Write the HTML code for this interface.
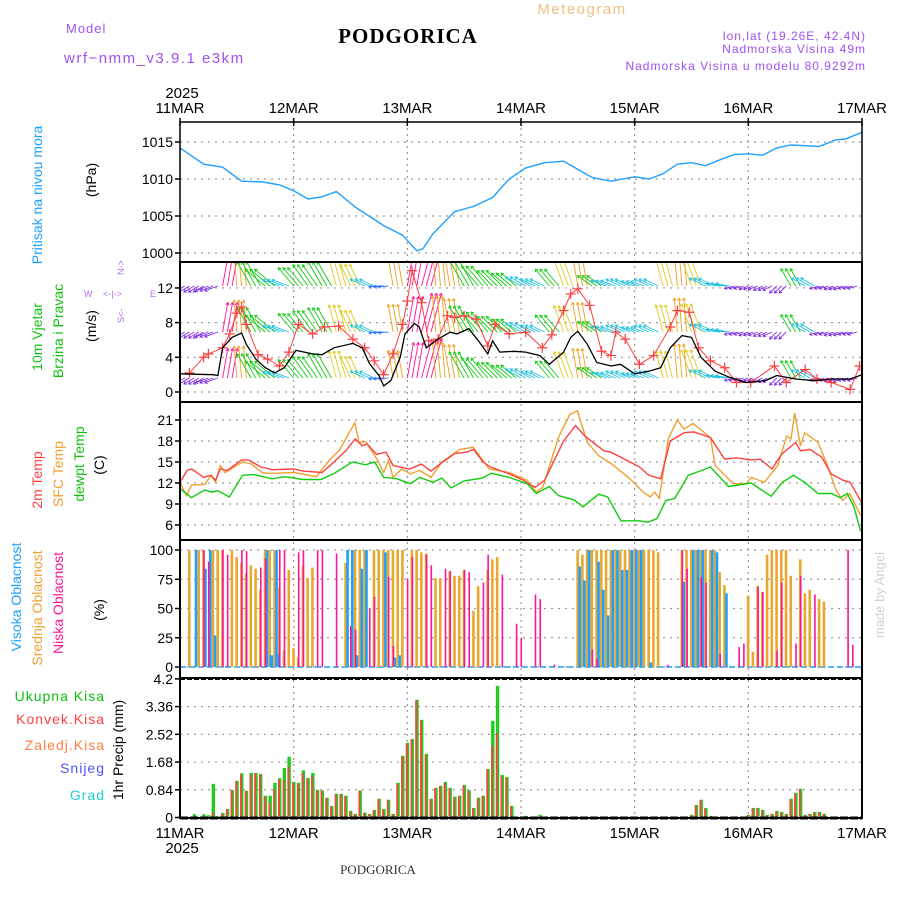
<!DOCTYPE html>
<html><head><meta charset="utf-8">
<style>
html,body{margin:0;padding:0;background:#fff;}
svg{display:block;font-family:"Liberation Sans",sans-serif;}
</style></head>
<body>
<svg id="chart" width="900" height="900" viewBox="0 0 900 900" xmlns="http://www.w3.org/2000/svg">
<rect x="0" y="0" width="900" height="900" fill="#fff"/>
<text x="66" y="33" font-size="13" fill="#a050f0" letter-spacing="1">Model</text>
<text x="64" y="63" font-size="15" fill="#a050f0" letter-spacing="1.5">wrf−nmm_v3.9.1 e3km</text>
<text x="408" y="43" font-size="21" font-weight="bold" font-family="Liberation Serif, serif" text-anchor="middle" letter-spacing="1">PODGORICA</text>
<text x="582" y="14" font-size="15" fill="#f0c080" text-anchor="middle" letter-spacing="1.5">Meteogram</text>
<text x="866" y="40" font-size="12" fill="#a050f0" text-anchor="end" letter-spacing="1">lon,lat (19.26E, 42.4N)</text>
<text x="866" y="53" font-size="12" fill="#a050f0" text-anchor="end" letter-spacing="1">Nadmorska Visina 49m</text>
<text x="866" y="70" font-size="12" fill="#a050f0" text-anchor="end" letter-spacing="1">Nadmorska Visina u modelu 80.9292m</text>
<text x="182" y="98" font-size="15" text-anchor="middle">2025</text>
<text x="182" y="853" font-size="15" text-anchor="middle">2025</text>
<text x="378" y="874" font-size="13" font-family="Liberation Serif, serif" text-anchor="middle" fill="#333">PODGORICA</text>
<text transform="translate(884,595) rotate(-90)" font-size="13" fill="#c8d8c8" text-anchor="middle">made by Angel</text>

<text transform="translate(42,195) rotate(-90)" font-size="14" fill="#1ea0ff" text-anchor="middle">Pritisak na nivou mora</text>
<text transform="translate(96,180) rotate(-90)" font-size="14" text-anchor="middle">(hPa)</text>
<text transform="translate(42,337) rotate(-90)" font-size="14" fill="#10c010" text-anchor="middle">10m Vjetar</text>
<text transform="translate(63,331) rotate(-90)" font-size="14" fill="#10c010" text-anchor="middle">Brzina i Pravac</text>
<text transform="translate(96,326) rotate(-90)" font-size="14" text-anchor="middle">(m/s)</text>
<g fill="#b070f0" font-size="9">
<text x="84" y="297">W</text><text x="150" y="297">E</text>
<text transform="translate(124,275) rotate(-90)">N-&gt;</text>
<text transform="translate(124,323) rotate(-90)">S&lt;-</text>
<text x="103" y="297">&lt;-|-&gt;</text>
</g>
<text transform="translate(42,480) rotate(-90)" font-size="14" fill="#ff4040" text-anchor="middle">2m Temp</text>
<text transform="translate(63,474) rotate(-90)" font-size="14" fill="#f0a030" text-anchor="middle">SFC Temp</text>
<text transform="translate(84,464) rotate(-90)" font-size="14" fill="#10c010" text-anchor="middle">dewpt Temp</text>
<text transform="translate(104,465) rotate(-90)" font-size="14" text-anchor="middle">(C)</text>
<text transform="translate(21,597) rotate(-90)" font-size="14" fill="#1ea0ff" text-anchor="middle">Visoka Oblacnost</text>
<text transform="translate(42,608) rotate(-90)" font-size="14" fill="#f0a030" text-anchor="middle">Srednja Oblacnost</text>
<text transform="translate(63,603) rotate(-90)" font-size="14" fill="#ff1493" text-anchor="middle">Niska Oblacnost</text>
<text transform="translate(104,610) rotate(-90)" font-size="14" text-anchor="middle">(%)</text>
<g font-size="14" text-anchor="end" letter-spacing="1">
<text x="105" y="701" fill="#10c010">Ukupna Kisa</text>
<text x="105" y="724" fill="#ff4040">Konvek.Kisa</text>
<text x="105" y="750" fill="#ff8040">Zaledj.Kisa</text>
<text x="105" y="773" fill="#5050ff">Snijeg</text>
<text x="105" y="800" fill="#20d0d0">Grad</text>
</g>
<text transform="translate(123,750) rotate(-90)" font-size="14" text-anchor="middle">1hr Precip (mm)</text>
<g id="layer"></g>
</svg>
<script>
var dayLabels = ["11MAR","12MAR","13MAR","14MAR","15MAR","16MAR","17MAR"];
var presHours = [0,5,9,13,17.5,21,24,27,30,33,37,43,47,50,51.3,53.4,58,62,66,69.5,73,77,81,84,87,91,96,99,102,105,108,111,114,117,120,123,126,129,135,138.5,140.5,144];
var presVals  = [1014.2,1012.0,1011.6,1009.7,1009.6,1009.2,1008.4,1007.3,1007.6,1008.3,1006.2,1003.7,1002.4,1000.3,1000.6,1002.6,1005.6,1006.3,1007.5,1010.0,1011.5,1012.2,1012.4,1011.3,1010.2,1009.7,1010.3,1010.0,1010.7,1012.0,1012.2,1011.8,1012.6,1013.3,1013.4,1013.2,1014.2,1014.6,1014.4,1015.3,1015.4,1016.3];
var presTicks = [1000,1005,1010,1015];

var spdHours = [0,7,8,9,11,13,14,16,18,20,22,24.5,28,30,32.5,36.5,38.5,40,42,43,44.5,46.5,47.5,49.5,50.5,52,54.5,57,58.5,61,63,65,66,67.5,70.5,73,76,78,81,82.5,84,86,88,91,93,96,99,101.5,103.5,106,108,110,113,116,119.5,123.5,126,130,134,137.5,141.5,144];
var spdVals  = [2.1,2.0,1.9,5.1,6.3,6.8,5.5,3.8,2.8,2.2,2.8,4.8,4.4,4.3,5.1,5.6,5.1,3.3,1.9,0.7,1.3,4.0,6.7,7.9,7.5,5.1,6.1,6.9,6.7,7.3,5.9,4.4,5.9,4.6,4.7,4.6,4.2,3.2,4.6,6.3,7.0,5.5,3.4,3.0,3.2,2.1,2.4,2.8,5.1,6.5,6.3,4.0,2.4,1.7,1.1,1.3,1.9,1.5,1.3,1.5,1.5,2.0];
var gustHours = [2,5,6,9,10.5,12,13,14,16.5,18.5,21,23,25,28,30.5,33.5,36.5,39,41,43,45,47,48,49,51,52.5,54.5,56.5,58,60,62.5,65,66.5,69.5,73,76.5,78.5,81,82.5,84,86.5,89,91,92,94,97,100,103.5,105,107.5,109.5,112,115,117.5,120.5,125.5,128,132,134.5,137.5,141.5,143.5];
var gustVals  = [2.2,4.0,4.4,5.1,6.7,9.1,9.8,7.8,4.3,3.8,3.0,4.6,7.8,6.7,7.5,7.6,6.1,5.1,3.6,2.0,4.4,7.8,10.5,14.0,10.3,5.9,6.1,8.8,8.6,8.8,8.4,5.3,7.8,6.7,6.9,5.1,6.6,9.4,11.3,11.9,10.0,4.7,4.2,6.9,6.1,3.2,4.2,7.5,9.4,9.2,5.1,3.6,2.8,1.1,1.1,3.0,1.1,2.6,1.5,1.1,0.3,3.0];
var windTicks = [0,4,8,12];
var windDirHours = [0,3,6,9,12,15,18,21,24,27,30,33,36,39,42,45,48,51,54,57,60,63,66,69,72,75,78,81,84,87,90,93,96,99,102,105,108,111,114,117,120,123,126,129,132,135,138,141];
var windDir = [240,240,250,10,355,330,310,290,320,325,330,345,335,295,265,350,10,15,355,350,330,320,315,310,300,295,320,340,350,305,290,295,290,295,345,355,340,295,280,255,250,245,225,330,300,255,250,255];
var windLen = [14,12,14,30,32,28,26,18,24,26,28,28,24,16,10,28,36,40,36,34,30,26,22,20,18,16,22,28,30,18,16,16,14,16,28,34,30,18,14,10,10,10,10,20,16,10,10,10];

var t2Hours = [0,1.5,2.5,5,6.5,7.5,8.5,10,13,14.5,17,19.5,24,26,30,32.5,35,37,38.5,39.5,41.5,43.5,45,48.5,51,53,55.5,58,60.5,62,64,65.5,69.5,72.5,74,75,77,81,83.5,85.5,89.5,91,95,97,99,100.5,101.5,103.5,106.5,108.5,112,115,117.5,120.5,122.5,125,127,130,131,133,135.5,137.5,140,141.5,144];
var t2Vals  = [12.1,13.8,14.0,12.8,13.1,12.4,14.0,13.8,15.3,15.3,14.3,13.9,14.0,13.7,13.5,15.0,16.6,18.3,17.3,17.6,16.1,16.4,14.5,14.0,14.7,13.7,15.0,16.2,16.4,16.8,15.0,14.3,13.3,12.4,11.7,11.4,12.4,18.0,20.2,18.7,16.6,16.4,15.0,14.3,13.1,12.8,12.6,18.0,19.2,19.3,18.5,15.4,15.6,15.3,15.4,14.0,16.1,17.8,16.6,16.8,15.7,13.3,12.4,12.1,9.1];
var sfcHours = [0,1.4,2.4,5.2,6.6,7.5,8.5,9.5,13.2,15.1,17.5,20.3,24.1,28.8,31.7,33.6,36.9,37.8,39.2,41.6,43,44,45,46.8,48.7,50.6,53,55.3,59.1,61.9,65.3,69.5,73.3,75.2,76.6,79.9,82.3,83.9,86,88.4,91.2,95,97.8,99.3,100.2,101.2,103.1,105,106.4,108.3,112,113,116.8,119.6,120.6,123.4,126.2,128.1,129,129.8,131,131.9,134.7,136.6,138.5,139.9,141.4,143.7];
var sfcVals  = [12.0,10.2,11.7,11.8,13.1,12.1,14.5,13.5,15.0,14.7,13.4,13.4,13.5,12.9,15.4,16.6,20.6,17.8,17.9,15.4,13.5,15.2,12.8,14.0,13.3,13.8,12.8,15.0,16.8,17.1,14.0,13.5,12.4,10.7,11.4,18.5,21.8,22.3,17.8,15.9,14.7,12.6,10.7,10.0,10.7,9.8,18.3,21.0,19.7,20.5,18.5,14.5,11.9,11.9,12.8,12.1,14.5,18.7,18.3,22.0,17.3,19.2,17.8,14.7,11.0,9.5,10.5,7.4];
var dewHours = [0,2.4,5.2,6.6,8,10.4,13.2,15.6,19.4,22.2,26,29.8,32.6,36.4,39.2,41.1,43,45.8,48.7,50.6,53.4,55.3,57.2,60,63.8,65.7,69.5,73.3,75.2,78,79.9,83.2,85.1,88.4,90.3,93.1,96.9,98.8,100.7,102.6,104.5,107.3,110.2,112,115.8,120.6,124.8,127.2,129.5,131.9,134.7,137.6,139.4,140.9,142.3,143.7];
var dewVals  = [11.2,9.9,11.0,10.7,10.9,10.0,13.1,13.2,12.6,12.9,12.5,12.5,13.4,15.0,14.6,15.0,12.8,12.6,11.9,12.8,12.1,12.7,11.3,12.3,12.7,13.4,12.8,11.9,10.5,11.5,10.2,9.6,8.6,10.4,10.0,6.6,6.6,6.4,6.9,9.5,9.8,13.1,13.8,14.3,11.5,12.0,10.1,12.1,13.1,12.1,10.5,10.5,9.9,10.5,8.6,5.1];
var tempTicks = [6,9,12,15,18,21];

var highHours = [3,5,6,7,18,18.8,19,20,20.5,35,36,37,38,39,43,45,46,84,85,86,88,89,90,91,92,93,94,95,96,97,99,106,108,109,110,112,113,115];
var highVals  = [100,84,100,27,100,10,10,100,11,100,100,10,84,100,98,8,10,86,74,100,90,66,44,100,100,83,83,100,100,100,4,73,100,100,100,100,98,63];
var midHours = [2,4,5,7,8,9,11,12,13,14,15,16,17,18,19,20,21,22,23,24,25,26,27,28,35,37,38,39,41,42,43,44,45,46,47,49,50,51,52,54,55,57,58,59,60,62,63,65,66,67,84,85,86,87,88,89,90,91,92,93,94,95,96,97,98,99,100,101,106,107,108,109,110,111,112,113,114,115,120,121,122,123,124,125,126,127,128,129,131,132,133,135,136];
var midVals  = [100,100,100,100,100,100,100,94,89,80,87,84,66,100,100,100,68,14,83,16,8,87,76,85,89,100,100,100,100,100,100,100,100,100,100,100,100,98,97,76,76,82,78,78,83,48,69,83,92,94,100,96,100,100,100,100,100,100,100,100,100,100,100,100,100,100,100,98,100,100,100,100,100,100,100,100,81,70,61,13,69,64,96,100,100,100,100,78,92,63,66,58,56];
var lowHours = [5,6,9,10,13,14,17,18,21,22,25,26,29,30,33,36,37,40,41,44,45,48,49,52,53,56,57,60,61,64,65,68,71,72,75,76,79,87,88,103,106,107,110,111,114,118,119,122,123,126,127,130,131,134,141,142];
var lowVals  = [100,90,100,96,100,99,85,93,100,100,98,100,100,100,97,35,32,50,60,77,18,75,94,96,87,84,82,83,81,72,96,79,37,25,62,58,2,15,7,2,100,84,77,72,11,17,20,69,64,14,72,20,78,62,100,19];
var cloudTicks = [0,25,50,75,100];

var precipHours = [3,5,6,7,8,9,10,11,12,13,14,15,16,17,18,19,20,21,22,23,24,25,26,27,28,29,30,31,32,33,34,35,36,37,38,39,40,41,42,43,44,45,46,47,48,49,50,51,52,53,54,55,56,57,58,59,60,61,62,63,64,65,66,67,68,69,70,73,76,108,109,110,111,112,120,121,122,123,124,125,126,127,128,129,130,131,132,133,134,135,136];
var precipTotal = [0.10,0.10,0.07,1.02,0.04,0.14,0.26,0.83,1.11,1.34,0.81,1.35,1.35,1.32,0.66,0.66,1.05,1.19,1.50,1.84,1.08,1.05,1.43,1.20,1.35,0.84,0.82,0.60,0.35,0.72,0.72,0.66,0.20,0.11,0.82,0.15,0.11,0.23,0.57,0.26,0.54,0.11,1.05,1.87,2.26,2.38,3.57,2.96,1.93,0.57,0.90,0.96,1.08,0.90,0.63,0.66,0.99,0.83,0.29,0.60,0.66,1.47,2.93,3.99,1.29,1.23,0.35,0.05,0.08,0.08,0.38,0.54,0.29,0.05,0.08,0.29,0.29,0.23,0.08,0.11,0.20,0.17,0.11,0.57,0.75,0.87,0.08,0.11,0.17,0.17,0.11];
var precipConv  = [0.02,0.03,0.02,0.15,0.03,0.12,0.24,0.83,1.11,1.30,0.81,1.30,1.33,1.30,0.64,0.45,0.86,1.15,1.14,1.54,1.05,1.02,1.35,1.17,1.26,0.82,0.80,0.58,0.33,0.70,0.70,0.64,0.18,0.10,0.80,0.13,0.10,0.21,0.55,0.24,0.52,0.10,1.02,1.85,2.24,2.36,3.55,2.94,1.90,0.55,0.88,0.94,1.05,0.88,0.60,0.64,0.97,0.80,0.27,0.58,0.64,1.45,2.17,2.56,1.25,1.20,0.33,0.03,0.05,0.06,0.36,0.52,0.27,0.04,0.06,0.27,0.27,0.21,0.06,0.10,0.18,0.15,0.10,0.55,0.72,0.85,0.06,0.10,0.15,0.15,0.10];
var precipTicks = [0,0.84,1.68,2.52,3.36,4.2];
var precipTickLabels = ["0","0.84","1.68","2.52","3.36","4.2"];

var X0 = 180, X1 = 862, HOURS = 144;
function xS(h){ return X0 + h * (X1 - X0) / HOURS; }
function yP(p){ return 253 - (p - 1000) * 7.4; }
function yW(v){ return 392 - v * 8.67; }
function yT(t){ return 525 - (t - 6) * 7.0; }
function yC(c){ return 667 - c * 1.17; }
function yR(r){ return 817.5 - r * 33.0; }

var NS = "http://www.w3.org/2000/svg";
var layer = document.getElementById("layer");
function mk(tag, attrs, parent){
  var e = document.createElementNS(NS, tag);
  for (var k in attrs) e.setAttribute(k, attrs[k]);
  (parent || layer).appendChild(e);
  return e;
}
var panels = [[122,262],[262,402],[402,540],[540,678],[678,818]];

var defs = mk("defs", {});
panels.forEach(function(p, i){
  var cp = mk("clipPath", {id: "clip" + i}, defs);
  mk("rect", {x: X0, y: p[0], width: X1 - X0, height: p[1] - p[0]}, cp);
});

for (var d = 1; d < dayLabels.length - 1; d++) {
  var gl = mk("line", {x1: xS(d*24), x2: xS(d*24), y1: 122, y2: 818, stroke: "#999", "stroke-width": 1.2, "stroke-dasharray": "2,4"});
  
  
}
dayLabels.forEach(function(lbl, i){
  var t1 = mk("text", {x: xS(i*24), y: 113, "font-size": 15, "text-anchor": "middle"});
  t1.textContent = lbl;
  
  
  var t2 = mk("text", {x: xS(i*24), y: 838, "font-size": 15, "text-anchor": "middle"});
  t2.textContent = lbl;
  
  
  var tk = mk("line", {x1: xS(i*24), x2: xS(i*24), y1: 118, y2: 126, stroke: "#000", "stroke-width": 1.5});
  
  
});

function yAxis(ticks, labels, f, name){
  ticks.forEach(function(v, i){
    var y = f(v);
    var g = mk("line", {x1: X0, x2: X1, y1: y, y2: y, stroke: "#999", "stroke-width": 1.2, "stroke-dasharray": "2,5"});
    
    
    var tk = mk("line", {x1: X0 - 5, x2: X0, y1: y, y2: y, stroke: "#000", "stroke-width": 1.5});
    
    
    var t = mk("text", {x: X0 - 7, y: y + 5, "font-size": 14, "text-anchor": "end"});
    t.textContent = labels ? labels[i] : String(v);
    
    
  });
}
yAxis(presTicks, null, yP, "pressure-axis");
yAxis(windTicks, null, yW, "wind-axis");
yAxis(tempTicks, null, yT, "temp-axis");
yAxis(cloudTicks, null, yC, "cloud-axis");
yAxis(precipTicks, precipTickLabels, yR, "precip-axis");

function poly(hs, vs, f, color, w, clip){
  var pts = hs.map(function(h, i){ return xS(h).toFixed(1) + "," + f(vs[i]).toFixed(1); }).join(" ");
  return mk("polyline", {points: pts, fill: "none", stroke: color, "stroke-width": w, "clip-path": "url(#clip" + clip + ")"});
}
var pl = poly(presHours, presVals, yP, "#1ea0ff", 1.4, 0);



function dirColor(a){
  var n = ((a + 180) % 360) - 180;
  if (n > 5) return "#ff1493";
  if (n >= -12) return "#f0a020";
  if (n >= -28) return "#e0cc20";
  if (n >= -55) return "#10cc10";
  if (n >= -80) return "#20c0e0";
  if (n >= -100) return "#3070ff";
  return "#8030e0";
}
var wg = mk("g", {"clip-path": "url(#clip1)"});


[286, 332, 378].forEach(function(base){
  windDirHours.forEach(function(h, i){
    for (var k = 0; k < 3; k++) {
      var hx = h + k;
      var a = windDir[i] * Math.PI / 180, L = windLen[i];
      var x1 = xS(hx), y1 = base;
      var x2 = x1 + Math.sin(a) * L, y2 = y1 - Math.cos(a) * L;
      var c = dirColor(windDir[i]);
      var ar = mk("line", {x1: x1, y1: y1, x2: x2, y2: y2, stroke: c, "stroke-width": 0.9}, wg);
      
      
      var hl = 3, b1 = a + Math.PI * 0.82, b2 = a - Math.PI * 0.82;
      var hd = mk("polyline", {points: (x2 + Math.sin(b1)*hl) + "," + (y2 - Math.cos(b1)*hl) + " " + x2 + "," + y2 + " " + (x2 + Math.sin(b2)*hl) + "," + (y2 - Math.cos(b2)*hl), fill: "none", stroke: c, "stroke-width": 0.9}, wg);
      
      
    }
  });
});
var gl2 = poly(gustHours, gustVals, yW, "#ff4040", 1, 1);


gustHours.forEach(function(h, i){
  var x = xS(h), y = yW(gustVals[i]);
  var p = mk("path", {d: "M" + (x-5) + "," + y + "H" + (x+5) + "M" + x + "," + (y-5) + "V" + (y+5), stroke: "#ff4040", "stroke-width": 1.2, "clip-path": "url(#clip1)"});
  
  
});
var sl = poly(spdHours, spdVals, yW, "#000", 1.3, 1);



var l1 = poly(sfcHours, sfcVals, yT, "#f0a030", 1.4, 2);


var l2 = poly(t2Hours, t2Vals, yT, "#ff4040", 1.4, 2);


var l3 = poly(dewHours, dewVals, yT, "#10cc10", 1.4, 2);



var cbase = mk("line", {x1: X0, x2: X1, y1: yC(0), y2: yC(0), stroke: "#1ea0ff", "stroke-width": 1.5, "stroke-dasharray": "6,3"});


midHours.forEach(function(h, i){
  var r = mk("rect", {x: xS(h) - 1.5, y: yC(midVals[i]), width: 2.6, height: yC(0) - yC(midVals[i]), fill: "#e8a830"});
  
  
});
highHours.forEach(function(h, i){
  var r = mk("rect", {x: xS(h) + 0.5, y: yC(highVals[i]), width: 2.6, height: yC(0) - yC(highVals[i]), fill: "#1ea0ff"});
  
  
});
lowHours.forEach(function(h, i){
  var r = mk("rect", {x: xS(h) - 0.5, y: yC(lowVals[i]), width: 1.6, height: yC(0) - yC(lowVals[i]), fill: "#ff1493"});
  
  
});

precipHours.forEach(function(h, i){
  var x = xS(h);
  var r = mk("rect", {x: x - 1.5, y: yR(precipTotal[i]), width: 3.4, height: yR(0) - yR(precipTotal[i]), fill: "#20cc20"});
  
  
  var c = mk("rect", {x: x - 1.5, y: yR(precipConv[i]), width: 1.8, height: yR(0) - yR(precipConv[i]), fill: "#ff4040"});
  
  
});

panels.forEach(function(p, i){
  var fr = mk("rect", {x: X0, y: p[0], width: X1 - X0, height: p[1] - p[0], fill: "none", stroke: "#000", "stroke-width": i === 0 ? 1.5 : 2});
  
  
});
var tb = mk("line", {x1: X0, x2: X1, y1: 679, y2: 679, stroke: "#000", "stroke-width": 2, "stroke-dasharray": "5,2"});


var bb = mk("line", {x1: X0, x2: X1, y1: 818, y2: 818, stroke: "#000", "stroke-width": 3, "stroke-dasharray": "8,2"});


</script>
</body></html>
